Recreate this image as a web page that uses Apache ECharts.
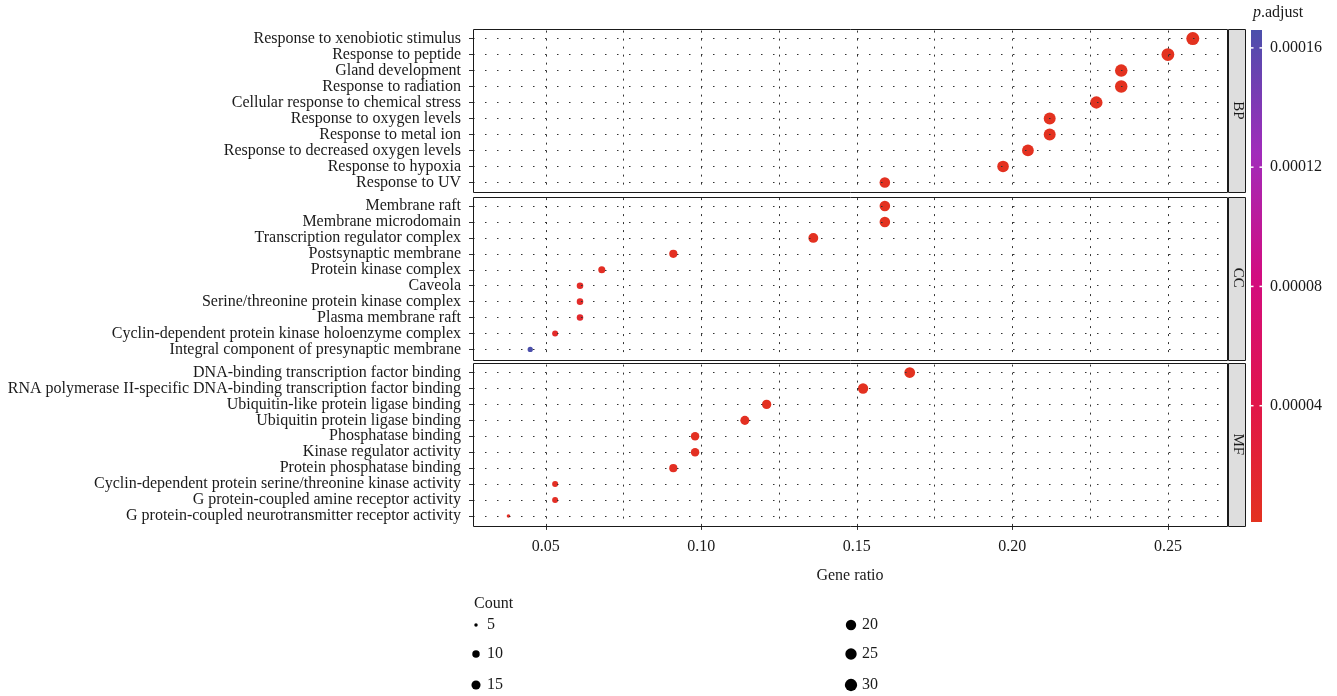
<!DOCTYPE html>
<html>
<head>
<meta charset="utf-8">
<script src="https://cdn.jsdelivr.net/npm/echarts@6/dist/echarts.min.js"></script>
<style>
  html, body { margin: 0; padding: 0; background: #fff; }
  #chart { width: 1337px; height: 696px; }
</style>
</head>
<body>
<div id="chart"></div>
<script>
const FONT = "'Liberation Serif', 'DejaVu Serif', serif";
const INK = '#1a1a1a';

// ---- data ----
const bpTerms = [
  'Response to xenobiotic stimulus', 'Response to peptide', 'Gland development',
  'Response to radiation', 'Cellular response to chemical stress', 'Response to oxygen levels',
  'Response to metal ion', 'Response to decreased oxygen levels', 'Response to hypoxia',
  'Response to UV'
];
const bpRatio = [0.258, 0.250, 0.235, 0.235, 0.227, 0.212, 0.212, 0.205, 0.197, 0.159];
const bpCount = [34, 33, 31, 31, 30, 28, 28, 27, 26, 21];
const bpPadj = [1.2e-6, 1.1e-6, 1.3e-6, 1.4e-6, 1.5e-6, 1.6e-6, 1.7e-6, 1.8e-6, 1.9e-6, 2.5e-6];

const ccTerms = [
  'Membrane raft', 'Membrane microdomain', 'Transcription regulator complex',
  'Postsynaptic membrane', 'Protein kinase complex', 'Caveola',
  'Serine/threonine protein kinase complex', 'Plasma membrane raft',
  'Cyclin-dependent protein kinase holoenzyme complex', 'Integral component of presynaptic membrane'
];
const ccRatio = [0.159, 0.159, 0.136, 0.091, 0.068, 0.061, 0.061, 0.061, 0.053, 0.045];
const ccCount = [21, 21, 18, 12, 9, 8, 8, 8, 7, 6];
const ccPadj = [1.5e-6, 1.6e-6, 2.5e-6, 4e-6, 6e-6, 9e-6, 1e-5, 1.4e-5, 1.1e-5, 1.66e-4];

const mfTerms = [
  'DNA-binding transcription factor binding',
  'RNA polymerase II-specific DNA-binding transcription factor binding',
  'Ubiquitin-like protein ligase binding', 'Ubiquitin protein ligase binding',
  'Phosphatase binding', 'Kinase regulator activity', 'Protein phosphatase binding',
  'Cyclin-dependent protein serine/threonine kinase activity',
  'G protein-coupled amine receptor activity',
  'G protein-coupled neurotransmitter receptor activity'
];
const mfRatio = [0.167, 0.152, 0.121, 0.114, 0.098, 0.098, 0.091, 0.053, 0.053, 0.038];
const mfCount = [22, 20, 16, 15, 13, 13, 12, 7, 7, 5];
const mfPadj = [1.5e-6, 2e-6, 3e-6, 3.5e-6, 4e-6, 4.5e-6, 5e-6, 6e-6, 6.5e-6, 7e-6];

const xTicks = [0.05, 0.10, 0.15, 0.20, 0.25];
const gridBreaks = [0.05, 0.075, 0.10, 0.125, 0.15, 0.175, 0.20, 0.225, 0.25];
const padjTicks = [0.00004, 0.00008, 0.00012, 0.00016];
const padjLabels = ['0.00004', '0.00008', '0.00012', '0.00016'];
const countBreaks = [5, 10, 15, 20, 25, 30];
const colorStops = ['#E3321F', '#E1154C', '#D20C80', '#A12BBB', '#4B4FAB'];

const X_MIN = 0.0266, X_MAX = 0.269;
const P_MIN = 1e-6, P_MAX = 1.66e-4;

// ---- layout ----
const panelLeft = 473, panelRight = 1227;
const stripLeft = 1228, stripW = 17;
const bar = { x: 1251, y: 30, w: 11, h: 492 };

const panels = [
  { name: 'BP', top: 29, bottom: 192, terms: bpTerms, ratio: bpRatio, count: bpCount, padj: bpPadj },
  { name: 'CC', top: 196.5, bottom: 359, terms: ccTerms, ratio: ccRatio, count: ccCount, padj: ccPadj },
  { name: 'MF', top: 363, bottom: 525.5, terms: mfTerms, ratio: mfRatio, count: mfCount, padj: mfPadj }
];

// area scale like ggplot's scale_size: diameter grows with sqrt of the rescaled count
const allCounts = bpCount.concat(ccCount, mfCount);
const cMin = Math.min(...allCounts), cMax = Math.max(...allCounts);
const D_MIN = 3.5, D_MAX = 13;
function dotSize(c) {
  const t = Math.max(0, (c - cMin) / (cMax - cMin));
  return D_MIN + (D_MAX - D_MIN) * Math.sqrt(t);
}

const chart = echarts.init(document.getElementById('chart'));

const grids = [], xAxes = [], yAxes = [], series = [], graphics = [];
const dottedH = { color: '#333', width: 1, type: [1.5, 10.5] };
const dottedV = { color: '#333', width: 1, type: [2, 6] };

panels.forEach((p, i) => {
  // ggplot pads discrete axes by 0.6 of a row on each side
  const rowH = (p.bottom - p.top) / 10.2;
  grids.push({
    left: panelLeft, width: panelRight - panelLeft,
    top: p.top + 0.1 * rowH, height: 10 * rowH
  });
  const last = i === panels.length - 1;
  xAxes.push({
    gridIndex: i, type: 'value', min: X_MIN, max: X_MAX,
    show: last,
    axisLine: { show: false },
    splitLine: { show: false },
    axisTick: { show: last, length: 6, customValues: xTicks, lineStyle: { color: '#333' } },
    axisLabel: {
      show: last, customValues: xTicks, margin: 15,
      formatter: v => v.toFixed(2),
      fontFamily: FONT, fontSize: 16, color: INK
    },
    name: last ? 'Gene ratio' : '',
    nameLocation: 'middle', nameGap: 44,
    nameTextStyle: { fontFamily: FONT, fontSize: 16, color: INK }
  });
  yAxes.push({
    gridIndex: i, type: 'category', data: p.terms, inverse: true,
    axisLine: { show: false },
    axisTick: { show: true, length: 4, alignWithLabel: true, lineStyle: { color: '#333' } },
    splitLine: { show: false },
    axisLabel: { interval: 0, hideOverlap: false, fontFamily: FONT, fontSize: 16, color: INK, margin: 12 }
  });

  // panel frame, strip and strip label
  graphics.push({
    type: 'rect', silent: true, z: 10,
    shape: { x: panelLeft + 0.5, y: Math.round(p.top) + 0.5, width: panelRight - panelLeft, height: Math.round(p.bottom - p.top) },
    style: { fill: 'none', stroke: INK, lineWidth: 1 }
  });
  graphics.push({
    type: 'rect', silent: true, z: 10,
    shape: { x: stripLeft + 0.5, y: Math.round(p.top) + 0.5, width: stripW, height: Math.round(p.bottom - p.top) },
    style: { fill: '#DEDEDE', stroke: INK, lineWidth: 1 }
  });
  graphics.push({
    type: 'text', silent: true, z: 11,
    x: stripLeft + stripW / 2 + 1, y: (p.top + p.bottom) / 2, rotation: -Math.PI / 2,
    style: { text: p.name, align: 'center', verticalAlign: 'middle', font: '15px ' + FONT, fill: INK }
  });
});

// dotted grid lines drawn as mark lines under the dots
// (precision 4 so 0.075 etc. are not rounded to two decimals)
panels.forEach((p, i) => {
  series.push({
    type: 'scatter', xAxisIndex: i, yAxisIndex: i, data: [], z: 1, silent: true,
    markLine: {
      silent: true, symbol: ['none', 'none'], animation: false, precision: 4,
      label: { show: false },
      data: gridBreaks.map(v => ({ xAxis: v, lineStyle: dottedV }))
        .concat(p.terms.map(t => ({ yAxis: t, lineStyle: dottedH })))
    }
  });
});

panels.forEach((p, i) => {
  series.push({
    type: 'scatter', xAxisIndex: i, yAxisIndex: i, z: 3,
    data: p.terms.map((t, k) => [p.ratio[k], t, p.count[k], p.padj[k]]),
    symbolSize: v => dotSize(v[2]),
    itemStyle: { opacity: 1 }
  });
});

// colour bar
graphics.push({
  type: 'rect', silent: true,
  shape: { x: bar.x, y: bar.y, width: bar.w, height: bar.h },
  style: {
    fill: new echarts.graphic.LinearGradient(0, 1, 0, 0,
      colorStops.map((c, k) => ({ offset: k / (colorStops.length - 1), color: c })))
  }
});
padjTicks.forEach((v, k) => {
  const y = bar.y + bar.h - (v - P_MIN) / (P_MAX - P_MIN) * bar.h;
  graphics.push({ type: 'line', silent: true, shape: { x1: bar.x, y1: y, x2: bar.x + 2.5, y2: y }, style: { stroke: '#fff', lineWidth: 1.5 } });
  graphics.push({ type: 'line', silent: true, shape: { x1: bar.x + bar.w - 2.5, y1: y, x2: bar.x + bar.w, y2: y }, style: { stroke: '#fff', lineWidth: 1.5 } });
  graphics.push({
    type: 'text', silent: true, x: 1270, y: y,
    style: { text: padjLabels[k], verticalAlign: 'middle', font: '16px ' + FONT, fill: INK }
  });
});
graphics.push({
  type: 'text', silent: true, x: 1253, y: 13,
  style: {
    text: '{i|p}.adjust', verticalAlign: 'middle', font: '16px ' + FONT, fill: INK,
    rich: { i: { fontStyle: 'italic', fontFamily: FONT, fontSize: 16, fill: INK } }
  }
});

// size legend
graphics.push({
  type: 'text', silent: true, x: 474, y: 604,
  style: { text: 'Count', verticalAlign: 'middle', font: '16px ' + FONT, fill: INK }
});
const legCols = [476, 851], legRows = [625, 654, 685];
countBreaks.forEach((c, k) => {
  const cx = legCols[Math.floor(k / 3)], cy = legRows[k % 3];
  graphics.push({ type: 'circle', silent: true, shape: { cx: cx, cy: cy, r: dotSize(c) / 2 }, style: { fill: '#000' } });
  graphics.push({
    type: 'text', silent: true, x: cx + 11, y: cy,
    style: { text: String(c), verticalAlign: 'middle', font: '16px ' + FONT, fill: INK }
  });
});

chart.setOption({
  backgroundColor: '#fff',
  animation: false,
  grid: grids,
  xAxis: xAxes,
  yAxis: yAxes,
  visualMap: {
    type: 'continuous', show: false, min: P_MIN, max: P_MAX, dimension: 3,
    seriesIndex: [3, 4, 5], inRange: { color: colorStops }
  },
  graphic: graphics,
  series: series
});
</script>
</body>
</html>
